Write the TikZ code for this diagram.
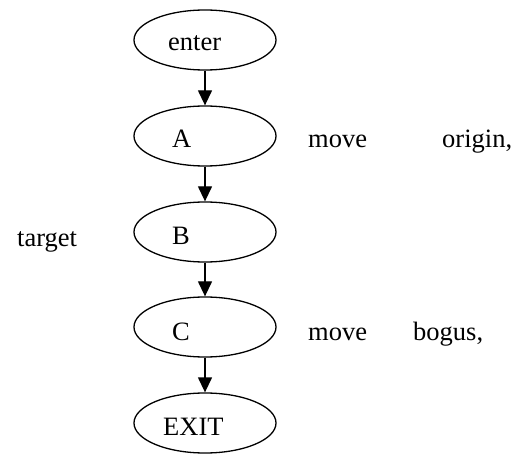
\documentclass[tikz,border=0pt]{standalone}
\usepackage{fontspec}
\setmainfont{Liberation Serif}
\usetikzlibrary{shapes.geometric,arrows.meta}
\tikzset{
  state/.style={draw, ellipse, line width=1.3pt, minimum width=142pt, minimum height=60pt, inner sep=0pt},
  lbl/.style={anchor=base west, inner sep=0pt, font=\fontsize{26.5}{30}\selectfont},
  flow/.style={line width=1.3pt, -{Triangle[width=14pt,length=15pt]}}
}
\begin{document}
\begin{tikzpicture}[x=1pt,y=-1pt]
  \useasboundingbox (0,0) rectangle (522,454);
  % states of the path
  \node[state] (enter) at (205,40) {};
  \node[state] (A) at (205,136) {};
  \node[state] (B) at (205,232) {};
  \node[state] (C) at (205,327) {};
  \node[state] (EXIT) at (205,423) {};
  % labels inside the states
  \node[lbl] (tenter) at (168,51) {enter};
  \node[lbl] (tA) at (172,148) {A};
  \node[lbl] (tB) at (172,245) {B};
  \node[lbl] (tC) at (172,340) {C};
  \node[lbl] (tEXIT) at (163,435) {EXIT};
  % side notes
  \node[lbl] (m1) at (308,148) {move};
  \node[lbl] (o1) at (442,148) {origin,};
  \node[lbl] (tg) at (17,247) {target};
  \node[lbl] (m2) at (308,340) {move};
  \node[lbl] (bg) at (413,340) {bogus,};
  % flow
  \draw[flow] (enter) -- (A);
  \draw[flow] (A) -- (B);
  \draw[flow] (B) -- (C);
  \draw[flow] (C) -- (EXIT);
\end{tikzpicture}
\end{document}
